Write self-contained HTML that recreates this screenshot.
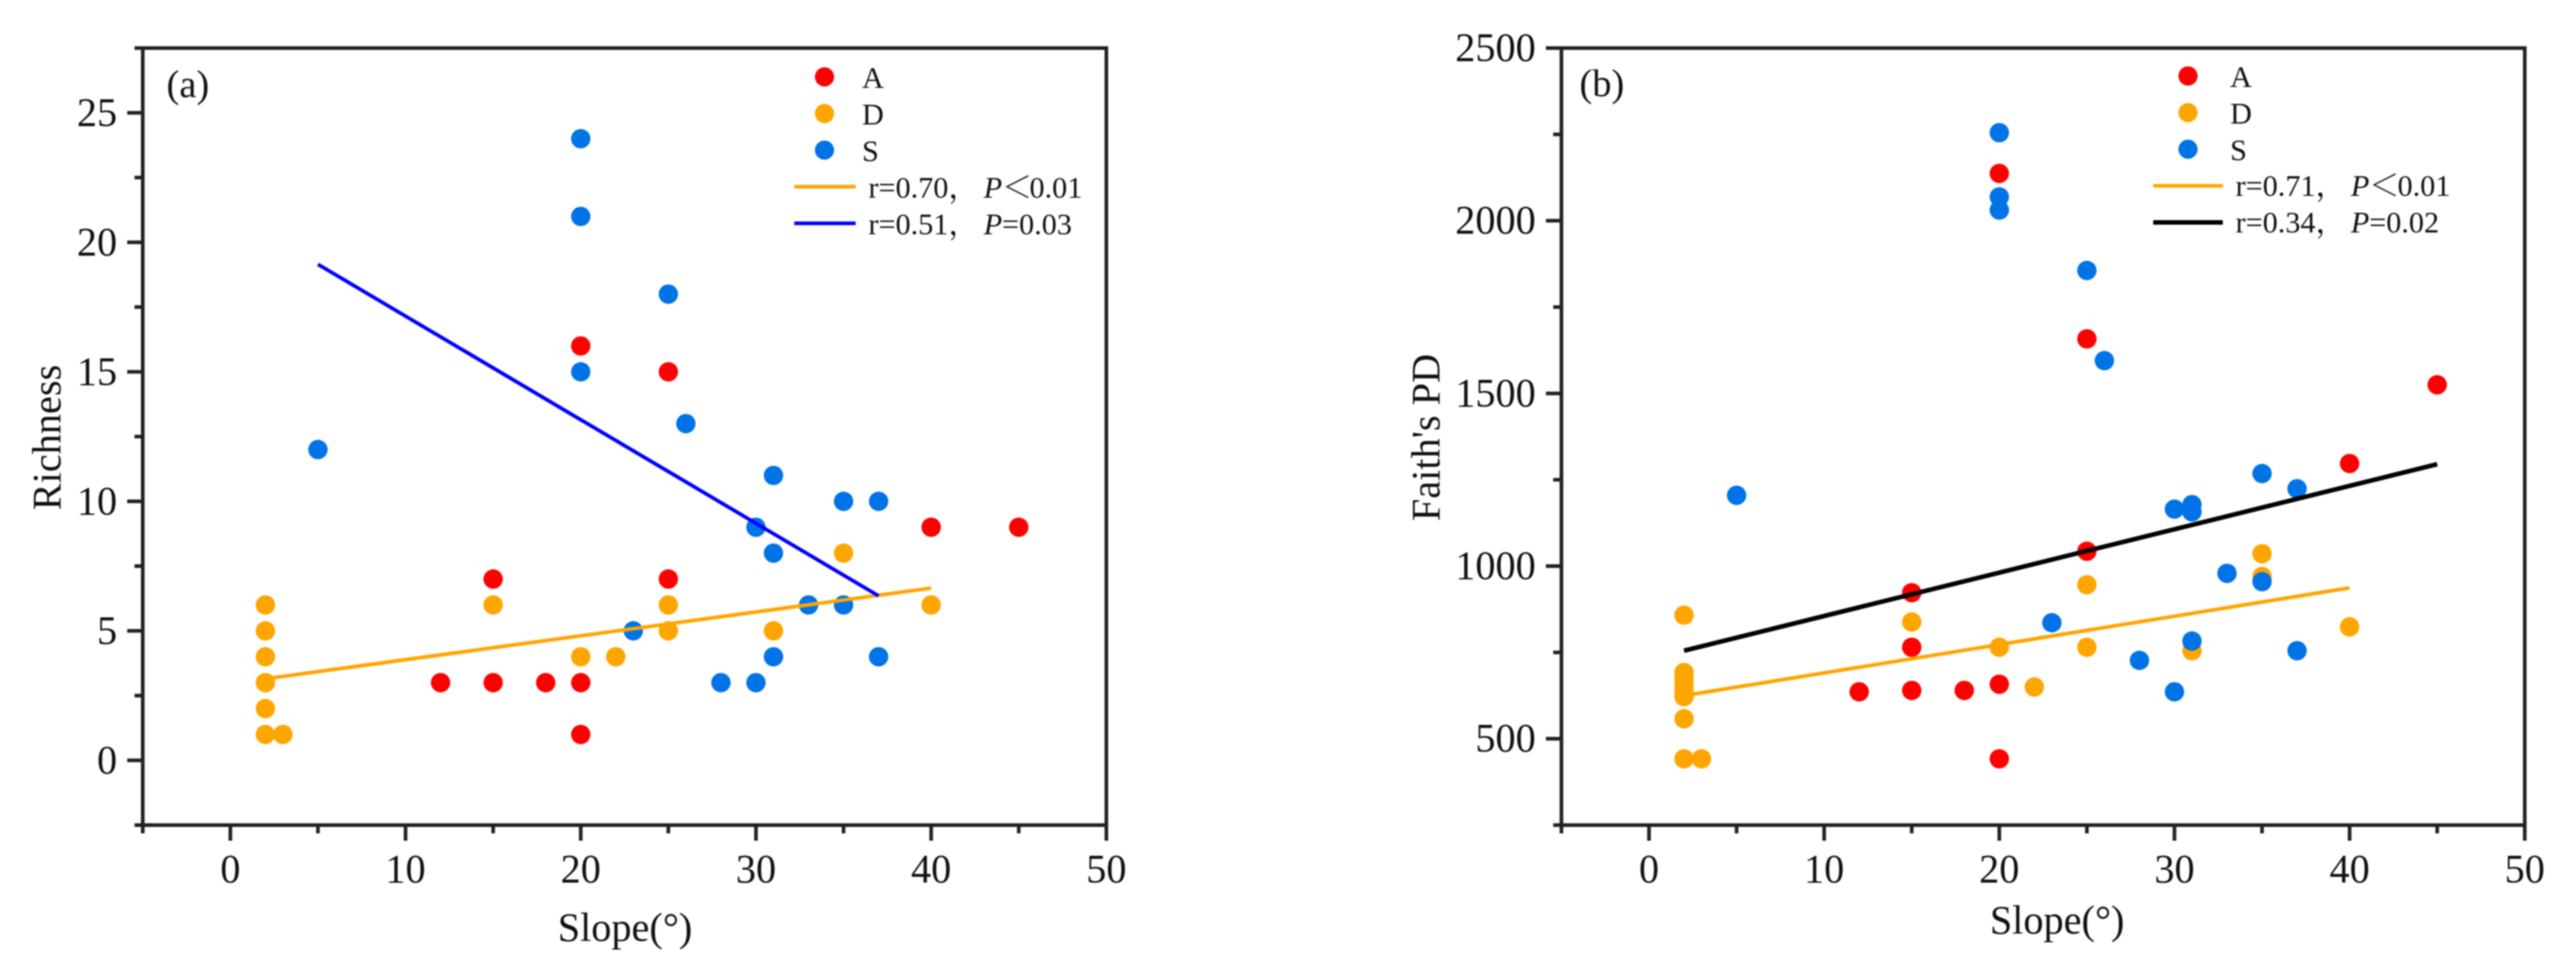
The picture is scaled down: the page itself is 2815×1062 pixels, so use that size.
<!DOCTYPE html>
<html>
<head>
<meta charset="utf-8">
<title>Richness and Faith's PD versus slope</title>
<style>
html,body{margin:0;padding:0;background:#fff;width:2815px;height:1062px;overflow:hidden}
svg{display:block;filter:blur(.7px)}
text{font-family:"Liberation Serif","Noto Serif CJK SC",serif;fill:#111}
</style>
</head>
<body>
<svg id="figure" xmlns="http://www.w3.org/2000/svg" width="2815" height="1062" viewBox="0 0 2815 1062">
  <rect x="0" y="0" width="2815" height="1062" fill="#fff"/>
  <g id="panel-a"></g>
  <g id="panel-b"></g>

  <g font-size="33">
    <circle cx="901" cy="84" r="10.5" fill="#ff0000"/>
    <text x="942" y="96">A</text>
    <circle cx="901" cy="124" r="10.5" fill="#ffa500"/>
    <text x="942" y="136">D</text>
    <circle cx="901" cy="164" r="10.5" fill="#0073e6"/>
    <text x="942" y="176">S</text>
    <line x1="868" y1="204" x2="935" y2="204" stroke="#ffa500" stroke-width="4"/>
    <text y="216"><tspan x="949">r=0.70，</tspan><tspan x="1075" font-style="italic">P</tspan><tspan x="1095">＜</tspan><tspan x="1125">0.01</tspan></text>
    <line x1="868" y1="244" x2="935" y2="244" stroke="#0000ff" stroke-width="4"/>
    <text y="256"><tspan x="949">r=0.51，</tspan><tspan x="1075" font-style="italic">P</tspan><tspan x="1095">=0.03</tspan></text>
  </g>

  <g font-size="33">
    <circle cx="2391" cy="83" r="10.5" fill="#ff0000"/>
    <text x="2437" y="95">A</text>
    <circle cx="2391" cy="123" r="10.5" fill="#ffa500"/>
    <text x="2437" y="135">D</text>
    <circle cx="2391" cy="163" r="10.5" fill="#0073e6"/>
    <text x="2437" y="175">S</text>
    <line x1="2353" y1="203" x2="2429" y2="203" stroke="#ffa500" stroke-width="4"/>
    <text y="214"><tspan x="2443">r=0.71，</tspan><tspan x="2569" font-style="italic">P</tspan><tspan x="2589">＜</tspan><tspan x="2620">0.01</tspan></text>
    <line x1="2353" y1="243" x2="2429" y2="243" stroke="#000" stroke-width="5"/>
    <text y="254"><tspan x="2443">r=0.34，</tspan><tspan x="2569" font-style="italic">P</tspan><tspan x="2589">=0.02</tspan></text>
  </g>
</svg>
<script>
// Panel (a): Richness
var aTicksX = [0, 10, 20, 30, 40, 50];
var aTicksY = [0, 5, 10, 15, 20, 25];
var aAx = [12, 15, 15, 18, 20, 20, 20, 25, 25, 40, 45];
var aAy = [3, 7, 3, 3, 16, 3, 1, 15, 7, 9, 9];
var aDx = [2, 2, 2, 2, 2, 2, 3, 15, 20, 22, 25, 25, 31, 35, 40];
var aDy = [6, 5, 4, 3, 2, 1, 1, 6, 4, 4, 6, 5, 5, 8, 6];
var aSx = [5, 20, 20, 20, 23, 25, 26, 28, 30, 30, 31, 31, 31, 33, 35, 35, 37, 37];
var aSy = [12, 24, 21, 15, 5, 18, 13, 3, 9, 3, 11, 8, 4, 6, 10, 6, 10, 4];
var aFitDx = [2, 40];
var aFitDy = [3.15, 6.65];
var aFitSx = [5, 37];
var aFitSy = [19.15, 6.35];

// Panel (b): Faith's PD
var bTicksX = [0, 10, 20, 30, 40, 50];
var bTicksY = [500, 1000, 1500, 2000, 2500];
var bAx = [12, 15, 15, 15, 18, 20, 20, 20, 25, 25, 40, 45];
var bAy = [636, 923, 765, 640, 640, 2137, 658, 442, 1658, 1043, 1297, 1525];
var bDx = [2, 2, 2, 2, 2, 2, 2, 2, 3, 15, 20, 22, 25, 25, 31, 35, 35, 40];
var bDy = [858, 692, 675, 658, 640, 622, 558, 442, 442, 838, 765, 650, 946, 765, 755, 1036, 970, 824];
var bSx = [5, 20, 20, 20, 23, 25, 26, 28, 30, 30, 31, 31, 31, 33, 35, 35, 37, 37];
var bSy = [1205, 2255, 2069, 2031, 836, 1856, 1595, 727, 1165, 636, 1178, 1157, 783, 979, 1268, 955, 1224, 755];
var bFitDx = [2, 40];
var bFitDy = [625, 937];
var bFitAllx = [2, 45];
var bFitAlly = [755, 1295];

var SVGNS = 'http://www.w3.org/2000/svg';
function mk(parent, tag, attrs, txt) {
  var e = document.createElementNS(SVGNS, tag);
  for (var k in attrs) { e.setAttribute(k, attrs[k]); }
  if (txt !== undefined) { e.textContent = txt; }
  parent.appendChild(e);
  return e;
}

function drawPanel(p) {
  var g = document.getElementById(p.id);
  var box = p.box;
  function sx(v) { return box.x0 + (v - p.xMin) / (p.xMax - p.xMin) * (box.x1 - box.x0); }
  function sy(v) { return box.y1 - (v - p.yMin) / (p.yMax - p.yMin) * (box.y1 - box.y0); }
  var ink = '#222';
  var el;

  // ticks
  var v;
  for (v = p.xMin; v <= p.xMax + 1e-6; v += p.xMinor) {
    var xMajor = p.xTicks.indexOf(v) >= 0;
    el = mk(g, 'line', {x1: sx(v), x2: sx(v), y1: box.y1, y2: box.y1 + (xMajor ? 17 : 9), stroke: ink, 'stroke-width': 4});
    
    
  }
  for (v = p.yMin; v <= p.yMax + 1e-6; v += p.yMinor) {
    var yMajor = p.yTicks.indexOf(v) >= 0;
    el = mk(g, 'line', {x1: box.x0, x2: box.x0 - (yMajor ? 17 : 9), y1: sy(v), y2: sy(v), stroke: ink, 'stroke-width': 4});
    
    
  }

  // plot frame
  el = mk(g, 'rect', {x: box.x0, y: box.y0, width: box.x1 - box.x0, height: box.y1 - box.y0, fill: 'none', stroke: ink, 'stroke-width': 4});
  
  

  // tick labels
  p.xTicks.forEach(function (t) {
    var lab = mk(g, 'text', {x: sx(t), y: p.xLabelY, 'text-anchor': 'middle', 'font-size': 44}, String(t));
    
    
  });
  p.yTicks.forEach(function (t) {
    var lab = mk(g, 'text', {x: box.x0 - 28, y: sy(t) + 14, 'text-anchor': 'end', 'font-size': 44}, String(t));
    
    
  });

  // axis titles and panel tag
  el = mk(g, 'text', {x: p.xTitleX, y: p.xTitleY, 'text-anchor': 'middle', 'font-size': 44}, 'Slope(°)');
  
  
  el = mk(g, 'text', {transform: 'translate(' + p.yTitleX + ',' + p.yTitleY + ') rotate(-90)', 'text-anchor': 'middle', 'font-size': 44}, p.yTitle);
  
  
  el = mk(g, 'text', {x: p.tagX, y: p.tagY, 'font-size': 42}, p.tag);
  
  

  // points
  p.series.forEach(function (s) {
    s.xs.forEach(function (xv, i) {
      var c = mk(g, 'circle', {cx: sx(xv), cy: sy(s.ys[i]), r: 10.6, fill: s.color});
      
      
    });
  });

  // regression lines
  p.fits.forEach(function (f) {
    var l = mk(g, 'line', {x1: sx(f.xs[0]), y1: sy(f.ys[0]), x2: sx(f.xs[1]), y2: sy(f.ys[1]), stroke: f.color, 'stroke-width': f.width});
    
    
  });
}

drawPanel({
  id: 'panel-a', box: {x0: 156, x1: 1209, y0: 52.5, y1: 901.5},
  xMin: -5, xMax: 50, xMinor: 5, xTicks: aTicksX,
  yMin: -2.5, yMax: 27.5, yMinor: 2.5, yTicks: aTicksY,
  xLabelY: 964, xTitleX: 683, xTitleY: 1028,
  yTitle: 'Richness', yTitleX: 66, yTitleY: 478,
  tag: '(a)', tagX: 182, tagY: 106,
  series: [
    {name: 'a', xs: aAx, ys: aAy, color: '#ff0000'},
    {name: 'd', xs: aDx, ys: aDy, color: '#ffa500'},
    {name: 's', xs: aSx, ys: aSy, color: '#0073e6'}
  ],
  fits: [
    {name: 'd', xs: aFitDx, ys: aFitDy, color: '#ffa500', width: 4},
    {name: 's', xs: aFitSx, ys: aFitSy, color: '#0000ff', width: 4}
  ]
});

drawPanel({
  id: 'panel-b', box: {x0: 1706.3, x1: 2759, y0: 52.5, y1: 901.5},
  xMin: -5, xMax: 50, xMinor: 5, xTicks: bTicksX,
  yMin: 250, yMax: 2500, yMinor: 250, yTicks: bTicksY,
  xLabelY: 964, xTitleX: 2248, xTitleY: 1020,
  yTitle: "Faith's PD", yTitleX: 1573, yTitleY: 478,
  tag: '(b)', tagX: 1726, tagY: 105,
  series: [
    {name: 'a', xs: bAx, ys: bAy, color: '#ff0000'},
    {name: 'd', xs: bDx, ys: bDy, color: '#ffa500'},
    {name: 's', xs: bSx, ys: bSy, color: '#0073e6'}
  ],
  fits: [
    {name: 'd', xs: bFitDx, ys: bFitDy, color: '#ffa500', width: 4},
    {name: 'all', xs: bFitAllx, ys: bFitAlly, color: '#000', width: 5}
  ]
});
</script>
</body>
</html>
